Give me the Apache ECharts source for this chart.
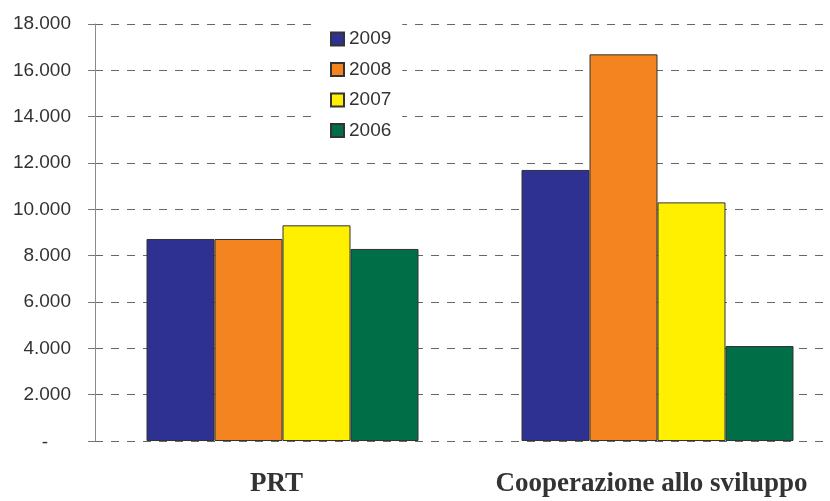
<!DOCTYPE html>
<html>
<head>
<meta charset="utf-8">
<script src="https://cdn.jsdelivr.net/npm/echarts@6/dist/echarts.min.js"></script>
<style>
  html, body { margin: 0; padding: 0; background: #fff; }
  #chart { width: 830px; height: 501px; }
</style>
</head>
<body>
<div id="chart"></div>
<script>
const categories = ["PRT", "Cooperazione allo sviluppo"];
const years = ["2009", "2008", "2007", "2006"];
const v2009 = [8720, 11700];
const v2008 = [8720, 16690];
const v2007 = [9310, 10300];
const v2006 = [8290, 4100];
const colors = ["#2E3192", "#F4841F", "#FFF000", "#006E46"];

const seriesValues = [v2009, v2008, v2007, v2006];

const myChart = echarts.init(document.getElementById("chart"));

// etichette asse y con punto come separatore migliaia, "-" per lo zero
const fmt = (val) => {
  if (val === 0) return "{z|-}";
  return String(val).replace(/\B(?=(\d{3})+(?!\d))/g, ".");
};

const option = {
  animation: false,
  grid: {
    left: 95,
    top: 24,
    bottom: 60,
    width: 750,
    containLabel: false,
    outerBoundsMode: "none",
  },
  legend: {
    orient: "vertical",
    left: 317,
    top: 21.5,
    padding: [8, 11, 10, 13],
    backgroundColor: "#fff",
    itemWidth: 13,
    itemHeight: 13,
    itemGap: 11.5,
    icon: "rect",
    data: years,
    textStyle: {
      fontFamily: "Liberation Sans",
      fontSize: 19,
      lineHeight: 19,
      color: "#333",
    },
  },
  xAxis: {
    type: "category",
    data: categories,
    axisLine: { show: false },
    axisTick: { show: false },
    axisLabel: {
      interval: 0,
      hideOverlap: false,
      margin: 30,
      padding: [0, 12, 0, 0],
      fontFamily: "Liberation Serif",
      fontWeight: "bold",
      fontSize: 27,
      lineHeight: 27,
      color: "#333",
    },
  },
  yAxis: {
    type: "value",
    min: 0,
    max: 18000,
    interval: 2000,
    axisLine: { show: true, lineStyle: { color: "#8a8a8a", width: 1 } },
    axisTick: { show: true, length: 7, lineStyle: { color: "#777" } },
    splitLine: {
      show: true,
      lineStyle: { color: "#666", type: [8, 8], width: 1 },
    },
    axisLabel: {
      margin: 24,
      fontFamily: "Liberation Sans",
      fontSize: 19,
      color: "#333",
      formatter: fmt,
      rich: {
        z: {
          fontFamily: "Liberation Sans",
          fontSize: 19,
          color: "#333",
          padding: [4, 23, 0, 0],
        },
      },
    },
  },
  series: years.map((y, i) => ({
    name: y,
    type: "bar",
    data: seriesValues[i],
    barWidth: 68,
    barGap: "0%",
    itemStyle: { color: colors[i], borderColor: "#333", borderWidth: 1 },
    emphasis: { disabled: true },
  })),
};

myChart.setOption(option);
</script>
</body>
</html>
